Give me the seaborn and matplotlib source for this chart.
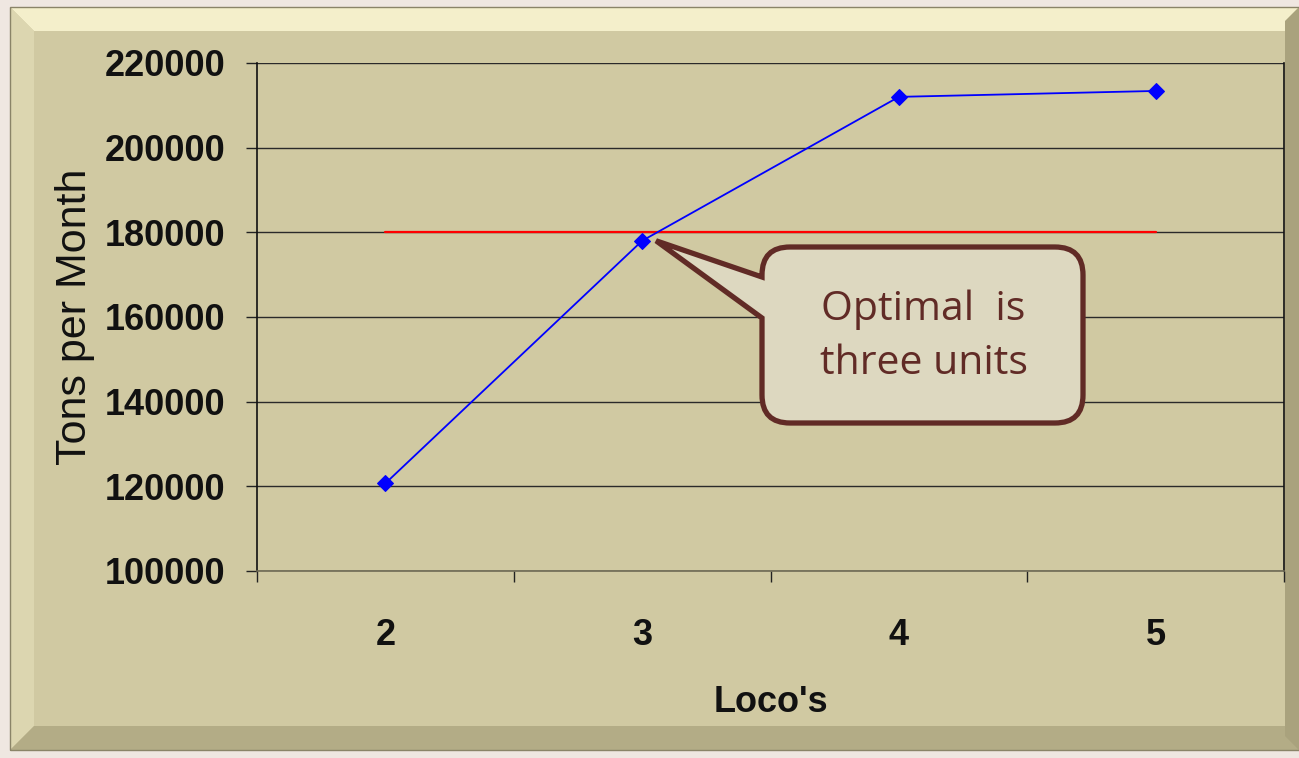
import numpy as np
import pandas as pd
import seaborn as sns
import matplotlib
matplotlib.use("Agg")
import matplotlib.pyplot as plt
from matplotlib.path import Path
from matplotlib.patches import PathPatch, Polygon, Rectangle

# ---- data ----
locos = [2, 3, 4, 5]
tons_per_month = [120700, 178000, 212000, 213400]
target = [180000, 180000, 180000, 180000]
y_ticks = [100000, 120000, 140000, 160000, 180000, 200000, 220000]
callout_text = "Optimal  is\nthree units"

W, H = 1299, 758
sns.set_theme(style="white")
plt.rcParams['font.family'] = ['Liberation Sans', 'DejaVu Sans']

fig = plt.figure(figsize=(W / 100, H / 100), dpi=100)
fig.patch.set_facecolor('#EFE7E1')

def fx(x):
    return x / W

def fy(y):
    return 1 - y / H

# panel with bevel
panel_fill = '#D0C9A2'
x0, x1, y0, y1, b = 10, 1310, 7, 750, 24
fig.patches.append(Rectangle((fx(x0), fy(y1)), fx(x1 - x0), (y1 - y0) / H,
                             transform=fig.transFigure, facecolor=panel_fill, edgecolor='none', zorder=0))
bevels = [
    ([(x0, y0), (x1, y0), (x1 - b, y0 + b), (x0 + b, y0 + b)], '#F4EFCB'),  # top
    ([(x0, y0), (x0 + b, y0 + b), (x0 + b, y1 - b), (x0, y1)], '#DCD6B0'),  # left
    ([(x0, y1), (x0 + b, y1 - b), (x1 - b, y1 - b), (x1, y1)], '#B3AC86'),  # bottom
    ([(1299 - 14, y0 + 14), (1299, y0), (1299, y1), (1299 - 14, y1 - 14)], '#A9A27D'),  # right
]
for pts, col in bevels:
    fig.patches.append(Polygon([(fx(px), fy(py)) for px, py in pts], closed=True,
                               transform=fig.transFigure, facecolor=col, edgecolor='none', zorder=0.5))
fig.patches.append(Rectangle((fx(x0), fy(y1)), fx(x1 - x0), (y1 - y0) / H, transform=fig.transFigure,
                             facecolor='none', edgecolor='#8A8468', linewidth=1.0, zorder=0.6))

ax = fig.add_axes([257 / W, 1 - 571 / H, (1284 - 257) / W, (571 - 63) / H])
ax.set_facecolor('none')
ax.set_zorder(2)

df = pd.DataFrame({"Loco's": locos, "Tons per Month": tons_per_month, "Target": target})
sns.lineplot(data=df, x="Loco's", y="Target", ax=ax, color='#FF0000', linewidth=1.6, zorder=3)
sns.lineplot(data=df, x="Loco's", y="Tons per Month", ax=ax, color='#0000FF', linewidth=1.3,
             marker='D', markersize=8, markeredgecolor='#0000FF', zorder=4)

ax.set_xlim(1.5, 5.5)
ax.set_ylim(100000, 220000)
ax.set_yticks(y_ticks)
ax.set_yticklabels([str(v) for v in y_ticks])
ax.set_xticks(locos)
ax.set_xticklabels([str(v) for v in locos])
ax.set_xticks(np.arange(1.5, 5.6, 1.0), minor=True)

ax.grid(axis='y', color='#2A2A2A', linewidth=1.0)
ax.grid(axis='x', visible=False)
for s in ['left', 'right']:
    ax.spines[s].set_visible(True)
    ax.spines[s].set_color('#111111')
    ax.spines[s].set_linewidth(1.2)
ax.spines['top'].set_visible(False)
ax.spines['bottom'].set_color('#6E6A55')
ax.spines['bottom'].set_linewidth(1.2)

ax.tick_params(axis='y', which='major', left=True, length=8, width=1, color='#222222',
               pad=15, labelsize=26, labelcolor='#111111')
ax.tick_params(axis='x', which='major', bottom=False, length=0, pad=34, labelsize=26, labelcolor='#111111')
ax.tick_params(axis='x', which='minor', bottom=True, length=8, width=1, color='#222222')
for lab in ax.get_yticklabels() + ax.get_xticklabels():
    lab.set_fontweight('bold')

ax.set_xlabel("Loco's", fontsize=26, fontweight='bold', color='#111111')
ax.xaxis.set_label_coords(0.5, -0.225)
ax.set_ylabel("Tons per Month", fontsize=31, color='#111111', fontfamily=['Liberation Sans', 'DejaVu Sans'])
ax.yaxis.set_label_coords(-0.158, 0.5)

# ---- callout ----
tip_disp = ax.transData.transform((3, 178000))
tip_x = tip_disp[0] + 14
tip_y = H - tip_disp[1]
bx0, bx1, by0, by1, r = 762, 1083, 247, 423, 28
wedge_top, wedge_bot = 277, 318
verts = [
    (bx0 + r, by0), (bx1 - r, by0), (bx1, by0), (bx1, by0 + r),
    (bx1, by1 - r), (bx1, by1), (bx1 - r, by1),
    (bx0 + r, by1), (bx0, by1), (bx0, by1 - r),
    (bx0, wedge_bot), (tip_x, tip_y), (bx0, wedge_top),
    (bx0, by0 + r), (bx0, by0), (bx0 + r, by0), (bx0 + r, by0),
]
codes = [Path.MOVETO, Path.LINETO, Path.CURVE3, Path.CURVE3,
         Path.LINETO, Path.CURVE3, Path.CURVE3,
         Path.LINETO, Path.CURVE3, Path.CURVE3,
         Path.LINETO, Path.LINETO, Path.LINETO,
         Path.LINETO, Path.CURVE3, Path.CURVE3, Path.CLOSEPOLY]
path = Path([(fx(px), fy(py)) for px, py in verts], codes)
fig.patches.append(PathPatch(path, transform=fig.transFigure, facecolor='#DDD8C0',
                             edgecolor='#612B26', linewidth=3.8, joinstyle='miter', zorder=5))
fig.text(fx((bx0 + bx1) / 2 + 1), fy((by0 + by1) / 2 + 2), callout_text, ha='center', va='center',
         fontsize=29.5, color='#612B26', family=['Open Sans', 'DejaVu Sans'], linespacing=1.45, zorder=6)

fig.savefig('out.png', dpi=100, facecolor=fig.get_facecolor())
